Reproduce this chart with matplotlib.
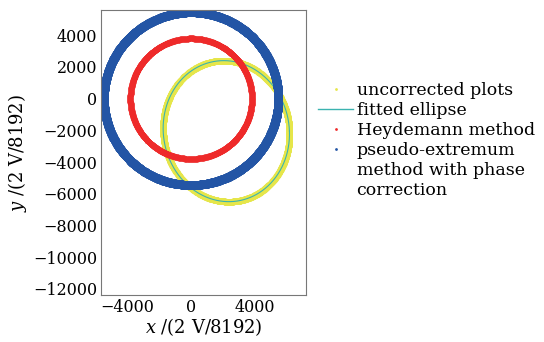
import numpy as np
import matplotlib.pyplot as plt
from matplotlib.lines import Line2D

# ellipse parameters (units: 2 V/8192)
raw_center = (2200, -2050)
raw_axes = (3950, 4450)
raw_phase = 0.04
heyd_center = (0, 0)
heyd_radius = 3800
pseudo_center = (0, 0)
pseudo_radius = 5450

labels = ['uncorrected plots', 'fitted ellipse', 'Heydemann method',
          'pseudo-extremum', 'method with phase', 'correction']
xticks = [-4000, 0, 4000]
yticks = [4000, 2000, 0, -2000, -4000, -6000, -8000, -10000, -12000]

plt.rcParams['font.family'] = 'DejaVu Serif'
plt.rcParams['mathtext.fontset'] = 'dejavuserif'

t = np.linspace(0, 2 * np.pi, 1500)
raw_x = raw_center[0] + raw_axes[0] * np.cos(t + raw_phase)
raw_y = raw_center[1] + raw_axes[1] * np.sin(t)
heyd_x = heyd_center[0] + heyd_radius * np.cos(t)
heyd_y = heyd_center[1] + heyd_radius * np.sin(t)
ps_x = pseudo_center[0] + pseudo_radius * np.cos(t)
ps_y = pseudo_center[1] + pseudo_radius * np.sin(t)

c_raw, c_fit, c_heyd, c_ps = '#e6e64a', '#3bb3b0', '#ee2a2a', '#2355a5'

fig = plt.figure(figsize=(5.44, 3.42), dpi=100)
ax = fig.add_axes([0.186, 0.137, 0.377, 0.834])

ax.plot(raw_x, raw_y, 'o', color=c_raw, mec='none', ms=4.5)
ax.plot(raw_x, raw_y, '-', color=c_fit, lw=0.8)
ax.plot(heyd_x, heyd_y, 'o', color=c_heyd, mec='none', ms=4)
ax.plot(ps_x, ps_y, 'o', color=c_ps, mec='none', ms=6.3)

ax.set_xlim(-5625, 7200)
ax.set_ylim(-12400, 5600)
ax.set_xticks(xticks)
ax.set_yticks(yticks)
ax.set_yticklabels(['%d' % v if v >= 0 else '\u2212%d' % -v for v in yticks])
ax.set_xticklabels(['%d' % v if v >= 0 else '\u2212%d' % -v for v in xticks])
ax.tick_params(labelsize=11.5, length=0, pad=3)
for s in ax.spines.values():
    s.set_color('#777777')
    s.set_linewidth(0.8)

ax.set_xlabel('$x$ /(2 V/8192)', fontsize=13, labelpad=0)
ax.set_ylabel('$y$ /(2 V/8192)', fontsize=13, labelpad=3)

dot = dict(marker='o', ls='none', ms=2, mec='none')
handles = [Line2D([], [], color=c_raw, **dot),
           Line2D([], [], color=c_fit, lw=1),
           Line2D([], [], color=c_heyd, **dot),
           Line2D([], [], color=c_ps, **dot),
           Line2D([], [], ls='none'),
           Line2D([], [], ls='none')]
leg = ax.legend(handles, labels, loc='upper left',
                bbox_to_anchor=(1.0, 0.79), frameon=False,
                fontsize=12.5, handlelength=2.0, handletextpad=0.2,
                labelspacing=0.17, borderaxespad=0.3)

fig.savefig('out.png', dpi=100)
